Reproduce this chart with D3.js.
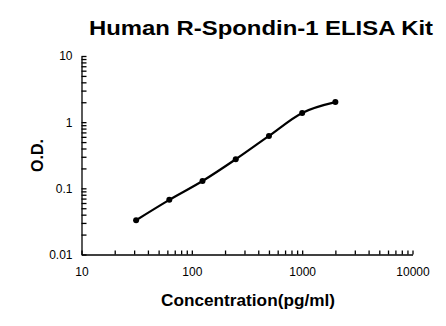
<!DOCTYPE html>
<html>
<head>
<meta charset="utf-8">
<script src="https://cdn.jsdelivr.net/npm/d3@7"></script>
<style>
  body { margin: 0; background: #fff; }
  svg { display: block; }
  text { font-family: "Liberation Sans", Arial, sans-serif; fill: #000; }
</style>
</head>
<body>
<div class="canvas"></div>
<script>
// standard curve values
var concentration = [31.25, 62.5, 125, 250, 500, 1000, 2000];
var od = [0.033, 0.067, 0.129, 0.275, 0.62, 1.38, 2.01];
var xTickLabels = ['10', '100', '1000', '10000'];
var yTickLabels = ['0.01', '0.1', '1', '10'];
var title = 'Human R-Spondin-1 ELISA Kit';
var xTitle = 'Concentration(pg/ml)';
var yTitle = 'O.D.';

var width = 446;
var height = 326;

var svg = d3.select('.canvas')
  .append('svg')
  .attr('width', width)
  .attr('height', height);

var xscale = d3.scaleLog()
  .domain([10, 10000])
  .range([81.5, 412.5]);
var yscale = d3.scaleLog()
  .domain([0.01, 10])
  .range([254.5, 56]);

// x axis: ticks point up into the plot
var xaxis = d3.axisBottom(xscale)
  .tickValues(xscale.ticks())
  .tickSizeInner(-4)
  .tickSizeOuter(0)
  .tickPadding(10)
  .tickFormat(function(d) { return xTickLabels.indexOf(String(d)) >= 0 ? String(d) : ''; });

var yaxis = d3.axisLeft(yscale)
  .tickValues(yscale.ticks())
  .tickSizeInner(-5)
  .tickSizeOuter(0)
  .tickPadding(9)
  .tickFormat(function(d) {
    var s = String(+d.toPrecision(3));
    return yTickLabels.indexOf(s) >= 0 ? s : '';
  });

var gx = svg.append('g')
  .attr('class', 'axis')
  .attr('transform', 'translate(0,254.5)')
  .call(xaxis);

var gy = svg.append('g')
  .attr('class', 'axis')
  .attr('transform', 'translate(81.5,0)')
  .call(yaxis);

svg.selectAll('.axis path, .axis line')
  .attr('stroke', '#000')
  .attr('stroke-width', 1.3);
svg.selectAll('.axis text')
  .attr('font-family', '"Liberation Sans", Arial, sans-serif')
  .attr('font-size', 12)
  .attr('fill', '#000');
gx.selectAll('text').attr('dy', '0.71em').attr('y', 13);

// smooth curve through the points
var pts = concentration.map(function(c, i) { return [xscale(c), yscale(od[i])]; });
var line = d3.line().curve(d3.curveMonotoneX);

svg.append('path')
  .attr('d', line(pts))
  .attr('fill', 'none')
  .attr('stroke', '#000')
  .attr('stroke-width', 2.2);

svg.selectAll('circle')
  .data(pts)
  .enter()
  .append('circle')
  .attr('cx', function(d) { return d[0]; })
  .attr('cy', function(d) { return d[1]; })
  .attr('r', 3)
  .attr('fill', '#000');

// titles
svg.append('text')
  .attr('x', 89)
  .attr('y', 35)
  .attr('font-size', 21)
  .attr('font-weight', 'bold')
  .attr('textLength', 344)
  .attr('lengthAdjust', 'spacingAndGlyphs')
  .text(title);

svg.append('text')
  .attr('x', 161)
  .attr('y', 305.5)
  .attr('font-size', 16)
  .attr('font-weight', 'bold')
  .attr('textLength', 174)
  .attr('lengthAdjust', 'spacingAndGlyphs')
  .text(xTitle);

svg.append('text')
  .attr('transform', 'translate(43,155.5) rotate(-90)')
  .attr('text-anchor', 'middle')
  .attr('font-size', 16)
  .attr('font-weight', 'bold')
  .text(yTitle);
</script>
</body>
</html>
